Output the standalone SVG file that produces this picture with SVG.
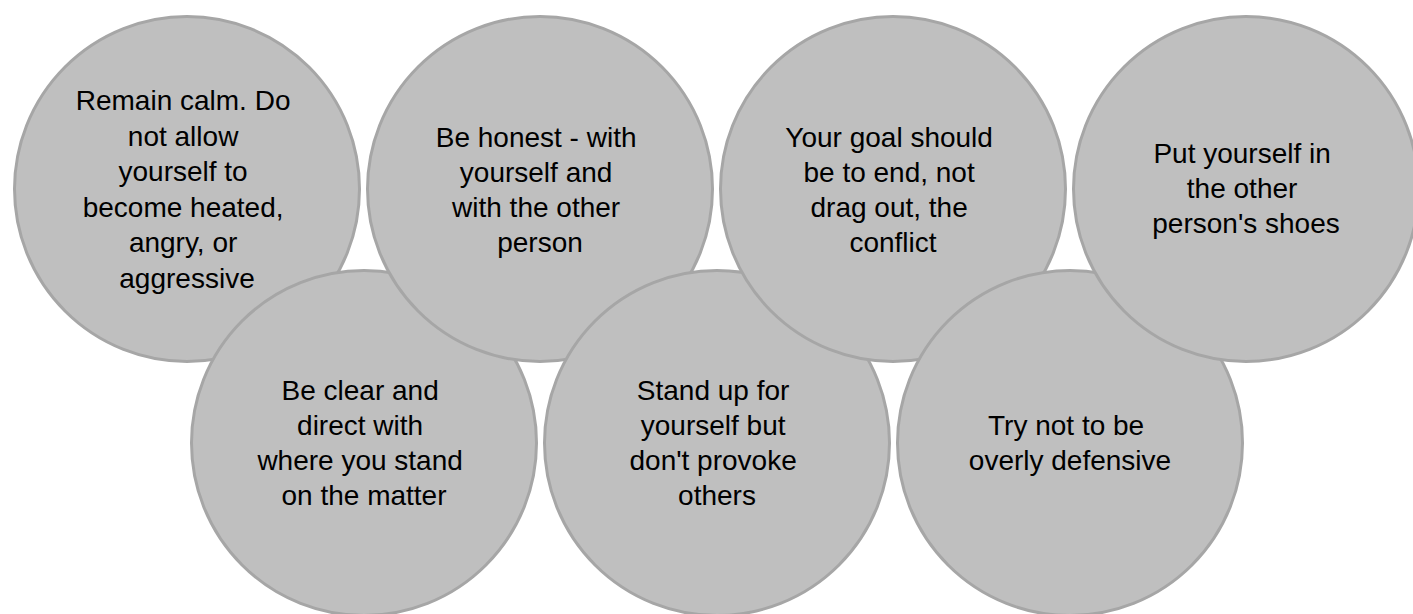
<svg xmlns="http://www.w3.org/2000/svg" width="1413" height="614" viewBox="0 0 1413 614">
  <style>
    .disc { fill: #bfbfbf; stroke: #a6a6a6; stroke-width: 3; }
    .label { font-family: "Liberation Sans", Arial, sans-serif; font-size: 28px; fill: #000000; text-anchor: middle; }
  </style>
  <rect x="0" y="0" width="1413" height="614" fill="#ffffff"/>

  <!-- circles drawn in zig-zag order so each one overlaps the previous -->
  <g id="tip-remain-calm">
    <circle class="disc" cx="187" cy="189" r="172.5"/>
    <text class="label">
      <tspan x="187" y="110">Remain calm. Do</tspan>
      <tspan x="187" y="145.5">not allow</tspan>
      <tspan x="187" y="181">yourself to</tspan>
      <tspan x="187" y="216.5">become heated,</tspan>
      <tspan x="187" y="252">angry, or</tspan>
      <tspan x="187" y="287.5">aggressive</tspan>
    </text>
  </g>

  <g id="tip-be-clear">
    <circle class="disc" cx="364" cy="443" r="172.5"/>
    <text class="label">
      <tspan x="364" y="400">Be clear and</tspan>
      <tspan x="364" y="435">direct with</tspan>
      <tspan x="364" y="470">where you stand</tspan>
      <tspan x="364" y="505">on the matter</tspan>
    </text>
  </g>

  <g id="tip-be-honest">
    <circle class="disc" cx="540" cy="189" r="172.5"/>
    <text class="label">
      <tspan x="540" y="146.5">Be honest - with</tspan>
      <tspan x="540" y="181.5">yourself and</tspan>
      <tspan x="540" y="216.5">with the other</tspan>
      <tspan x="540" y="251.5">person</tspan>
    </text>
  </g>

  <g id="tip-stand-up">
    <circle class="disc" cx="717" cy="443" r="172.5"/>
    <text class="label">
      <tspan x="717" y="400">Stand up for</tspan>
      <tspan x="717" y="435">yourself but</tspan>
      <tspan x="717" y="470">don't provoke</tspan>
      <tspan x="717" y="505">others</tspan>
    </text>
  </g>

  <g id="tip-your-goal">
    <circle class="disc" cx="893" cy="189" r="172.5"/>
    <text class="label">
      <tspan x="893" y="146.5">Your goal should</tspan>
      <tspan x="893" y="181.5">be to end, not</tspan>
      <tspan x="893" y="216.5">drag out, the</tspan>
      <tspan x="893" y="251.5">conflict</tspan>
    </text>
  </g>

  <g id="tip-not-defensive">
    <circle class="disc" cx="1070" cy="443" r="172.5"/>
    <text class="label">
      <tspan x="1070" y="435">Try not to be</tspan>
      <tspan x="1070" y="470">overly defensive</tspan>
    </text>
  </g>

  <g id="tip-other-shoes">
    <circle class="disc" cx="1246" cy="189" r="172.5"/>
    <text class="label">
      <tspan x="1246" y="163">Put yourself in</tspan>
      <tspan x="1246" y="198">the other</tspan>
      <tspan x="1246" y="233">person's shoes</tspan>
    </text>
  </g>

  <g id="connectors"/>
</svg>
